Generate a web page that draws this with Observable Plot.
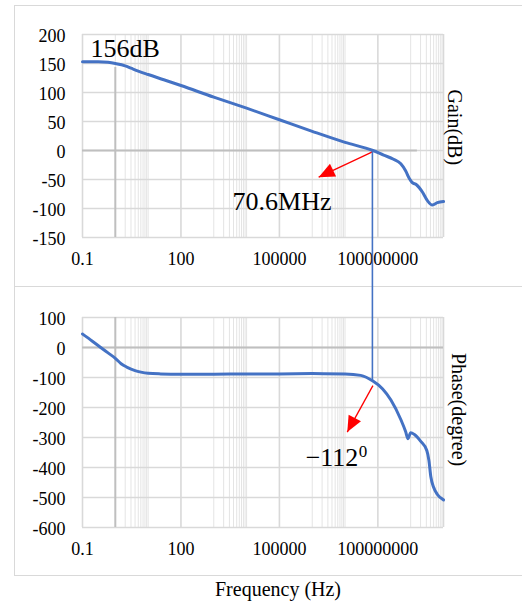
<!DOCTYPE html>
<html>
<head>
<meta charset="utf-8">
<script src="https://cdn.jsdelivr.net/npm/d3@7"></script>
<script src="https://cdn.jsdelivr.net/npm/@observablehq/plot@0.6"></script>
<style>
  html, body { margin: 0; padding: 0; background: #fff; }
  #wrap { position: relative; width: 522px; height: 608px; overflow: hidden; background: #fff;
          font-family: "Liberation Serif", "Times New Roman", serif; }
  .box { position: absolute; border: 1.5px solid #d9d9d9; box-sizing: border-box; }
  .abs { position: absolute; left: 0; }
  #xtitle { position: absolute; left: 0; width: 556px; top: 578px; text-align: center; font-size: 20px; color: #000; }
</style>
</head>
<body>
<div id="wrap">
  <div class="box" style="left:14px; top:5px; width:540px; height:282px;"></div>
  <div class="box" style="left:14px; top:286px; width:540px; height:290px;"></div>
  <div id="gain" class="abs" style="top:0px;"></div>
  <div id="phase" class="abs" style="top:287px;"></div>
  <div id="xtitle">Frequency (Hz)</div>
</div>
<script>
// ---------- data ----------
const freqGain = [0.1, 0.3, 0.6, 1, 2, 3, 5, 10, 30, 100, 1e3, 1e4, 1e5, 1e6, 1e7, 7.06e7,
  1.5e8, 3e8, 5e8, 7e8, 9e8, 1.1e9, 1.5e9, 2.3e9, 3.2e9, 4.6e9, 6.5e9, 1e10];
const gainDb = [153, 153, 152, 150, 146, 142, 137, 131, 122, 112, 92, 73, 53, 33, 14, 0,
  -8, -15, -23, -35, -48, -55, -59, -72, -86, -94, -90, -88];

const freqPhase = [0.1, 0.2, 0.35, 0.6, 1, 1.5, 2.3, 4, 6, 10, 24, 100, 1e3, 1e4, 1e5, 1e6, 1e7,
  3e7, 7.06e7, 1.4e8, 2.5e8, 5e8, 7e8, 8.3e8, 1e9, 1.3e9, 2e9, 3.1e9, 3.6e9, 4.1e9, 5e9, 6.5e9, 1e10];
const phaseDeg = [45, 21, 1, -18, -36, -54, -66, -77, -82, -86, -88, -89, -89, -88, -88, -87, -88,
  -93, -112, -138, -175, -240, -280, -304, -284, -290, -312, -343, -377, -430, -466, -490, -508];

const xTicks = [0.1, 100, 100000, 100000000];
const xTickLabels = ["0.1", "100", "100000", "100000000"];
const xMajorGrid = [0.1, 100, 1e5, 1e8, 1e10];
const xMinorGrid = [1,2,3,4,5,6,7,8,9,10, 1e3,2e3,3e3,4e3,5e3,6e3,7e3,8e3,9e3,1e4,
  1e6,2e6,3e6,4e6,5e6,6e6,7e6,8e6,9e6,1e7, 1e9,2e9,3e9,4e9,5e9,6e9,7e9,8e9,9e9];
const gainTicks = [-150, -100, -50, 0, 50, 100, 150, 200];
const phaseTicks = [-600, -500, -400, -300, -200, -100, 0, 100];

const crossoverFreq = 70.6e6;
const crossoverPhase = -112;
const poleFreq = 1;

const gainArrow = [{x1: 70.6e6, y1: -2, x2: 1.57e6, y2: -46}];
const phaseArrow = [{x1: 70.6e6, y1: -127, x2: 1.17e7, y2: -282}];
const gainNotes = [{x: 0.175, y: 162, text: "156dB"}, {x: 3740, y: -103, text: "70.6MHz"}];
const phaseNotes = [{x: 6.3e5, y: -396, text: "\u2212112", sup: "0"}];

// ---------- helpers ----------
const gainData = freqGain.map((f, i) => ({f, v: gainDb[i]}));
const phaseData = freqPhase.map((f, i) => ({f, v: phaseDeg[i]}));
const xLabel = new Map(xTicks.map((t, i) => [t, xTickLabels[i]]));
const FONT = "Liberation Serif";
const headShape = {
  draw(ctx, l, r) { ctx.moveTo(0, -l); ctx.lineTo(-r, 0); ctx.lineTo(r, 0); ctx.closePath(); }
};
const xScale = {type: "log", domain: [0.1, 1e10]};

function commonMarks(yTicks) {
  return [
    Plot.gridX(xMinorGrid, {stroke: "#e4e4e4", strokeOpacity: 1, strokeWidth: 1}),
    Plot.gridX(xMajorGrid, {stroke: "#d9d9d9", strokeOpacity: 1, strokeWidth: 1.6}),
    Plot.gridY(yTicks, {stroke: "#d9d9d9", strokeOpacity: 1, strokeWidth: 1.6}),
    Plot.axisX(xTicks, {tickSize: 0, tickPadding: 15, tickFormat: d => xLabel.get(d), label: null, fontSize: 18, fontFamily: FONT, fontVariant: "normal", fill: "#000"}),
    Plot.axisY(yTicks, {tickSize: 0, tickPadding: 17, tickFormat: d => String(d), label: null, fontSize: 18, fontFamily: FONT, fontVariant: "normal", fill: "#000", dy: 2})
  ];
}

const gainPlot = Plot.plot({
  width: 522, height: 286,
  marginLeft: 82, marginRight: 79, marginTop: 34, marginBottom: 49,
  x: xScale,
  y: {domain: [-150, 200]},
  style: {background: "transparent", fontFamily: FONT, fontSize: "18px", color: "#000", overflow: "visible"},
  marks: [
    ...commonMarks(gainTicks),
    Plot.ruleY([0], {x1: 0.1, x2: 1.6e9, stroke: "#bfbfbf", strokeWidth: 2}),
    Plot.ruleX([poleFreq], {y1: -150, y2: 143, stroke: "#bfbfbf", strokeWidth: 2}),
    Plot.line(gainData, {x: "f", y: "v", stroke: "#4472c4", strokeWidth: 3, curve: "monotone-x"}),
    Plot.link(gainArrow, {x1: "x1", y1: "y1", x2: "x2", y2: "y2", stroke: "red", strokeWidth: 1.3}),
    Plot.vector(gainArrow, {x: "x2", y: "y2", rotate: 244, length: 16, r: 7, anchor: "end", shape: headShape, fill: "red", stroke: "none"}),
    Plot.text(gainNotes, {x: "x", y: "y", text: "text", textAnchor: "start", lineAnchor: "bottom", fontSize: 26, fontFamily: FONT, fill: "#000"}),
    Plot.text([40], {y: d => d, text: () => "Gain(dB)", frameAnchor: "right", textAnchor: "middle", lineAnchor: "middle", dx: 11, rotate: 90, fontSize: 20, fontFamily: FONT, fill: "#000"})
  ]
});

const phasePlot = Plot.plot({
  width: 522, height: 288,
  marginLeft: 82, marginRight: 79, marginTop: 30, marginBottom: 48,
  x: xScale,
  y: {domain: [-600, 100]},
  style: {background: "transparent", fontFamily: FONT, fontSize: "18px", color: "#000", overflow: "visible"},
  marks: [
    ...commonMarks(phaseTicks),
    Plot.ruleY([0], {stroke: "#bfbfbf", strokeWidth: 2}),
    Plot.ruleX([poleFreq], {y1: -600, y2: 100, stroke: "#bfbfbf", strokeWidth: 2}),
    Plot.line(phaseData, {x: "f", y: "v", stroke: "#4472c4", strokeWidth: 3, curve: "monotone-x"}),
    Plot.link(phaseArrow, {x1: "x1", y1: "y1", x2: "x2", y2: "y2", stroke: "red", strokeWidth: 1.3}),
    Plot.vector(phaseArrow, {x: "x2", y: "y2", rotate: 208, length: 16, r: 7, anchor: "end", shape: headShape, fill: "red", stroke: "none"}),
    Plot.text(phaseNotes, {x: "x", y: "y", text: "text", textAnchor: "start", lineAnchor: "bottom", fontSize: 26, fontFamily: FONT, fill: "#000"}),
    Plot.text(phaseNotes, {x: "x", y: "y", text: "sup", textAnchor: "start", lineAnchor: "bottom", fontSize: 17, fontFamily: FONT, dx: 53, dy: -9, fill: "#000"}),
    Plot.text([-207], {y: d => d, text: () => "Phase(degree)", frameAnchor: "right", textAnchor: "middle", lineAnchor: "middle", dx: 15, rotate: 90, fontSize: 20, fontFamily: FONT, fill: "#000"})
  ]
});

document.getElementById("gain").appendChild(gainPlot);
document.getElementById("phase").appendChild(phasePlot);

// force serif face on every label (inline style wins over any inherited font)
d3.selectAll("#wrap svg text, #wrap svg g")
  .style("font-family", "'Liberation Serif', 'Times New Roman', serif")
  .style("font-variant", "normal");

// connecting crossover line across both panels, positioned with each plot's own scales
const phaseTop = 287;
const cx = gainPlot.scale("x").apply(crossoverFreq);
const cy1 = gainPlot.scale("y").apply(0);
const cy2 = phaseTop + phasePlot.scale("y").apply(crossoverPhase);
const overlay = d3.select("#wrap").append("svg")
  .attr("width", 522).attr("height", 608)
  .style("position", "absolute").style("left", "0px").style("top", "0px")
  .style("pointer-events", "none");
overlay.append("line")
  .attr("x1", cx).attr("x2", cx).attr("y1", cy1).attr("y2", cy2)
  .attr("stroke", "#4472c4").attr("stroke-width", 1.6);
</script>
</body>
</html>
